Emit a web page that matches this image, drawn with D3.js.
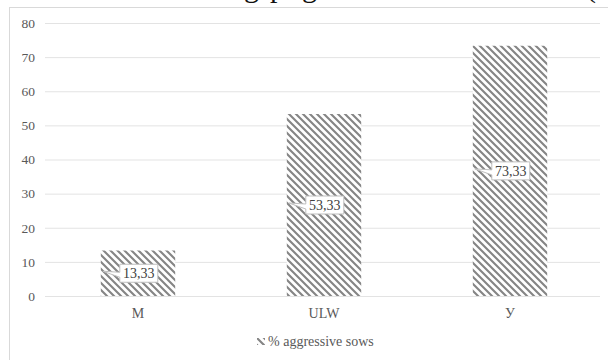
<!DOCTYPE html>
<html>
<head>
<meta charset="utf-8">
<script src="https://cdn.jsdelivr.net/npm/d3@7/dist/d3.min.js"></script>
<style>
  html, body { margin: 0; padding: 0; background: #fff; }
  svg { display: block; }
  svg text { font-family: "Liberation Serif", "Times New Roman", serif; }
</style>
</head>
<body>
<svg id="chart" width="608" height="360"></svg>
<script>
// Share of aggressive sows per group
const categories = ["M", "ULW", "У"];
const values = [13.33, 53.33, 73.33];
const labels = ["13,33", "53,33", "73,33"];
const yTicks = [0, 10, 20, 30, 40, 50, 60, 70, 80];
const seriesName = "% aggressive sows";

const svg = d3.select("#chart");
const W = 608, H = 360;
const serif = "'Liberation Serif', 'Times New Roman', serif";

// page text running above the chart frame (only its lower part is on screen)
const head = svg.append("text")
  .attr("y", -3)
  .attr("font-size", 30)
  .attr("font-family", serif)
  .attr("fill", "#111");
head.append("tspan").attr("x", 244).text("g");
head.append("tspan").attr("x", 270).text("p");
head.append("tspan").attr("x", 302).text("g");
head.append("tspan").attr("x", 586).text("(");

// chart frame
svg.append("rect")
  .attr("x", 9.5).attr("y", 7.5)
  .attr("width", W).attr("height", H)
  .attr("fill", "#fff")
  .attr("stroke", "#d9d9d9");

// diagonal hatch fill
const defs = svg.append("defs");
const pat = defs.append("pattern")
  .attr("id", "hatch")
  .attr("patternUnits", "userSpaceOnUse")
  .attr("width", 7).attr("height", 7);
pat.append("rect").attr("width", 7).attr("height", 7).attr("fill", "#fff");
pat.append("path")
  .attr("d", "M-2,-2 L9,9 M-2,5 L2,9 M5,-2 L9,2")
  .attr("stroke", "#858585")
  .attr("stroke-width", 2.1);

const plot = { left: 45, right: 603, top: 23, bottom: 296 };

const x = d3.scaleBand()
  .domain(categories)
  .range([plot.left, plot.right])
  .paddingInner(0.6)
  .paddingOuter(0.3);

const y = d3.scaleLinear()
  .domain([0, 80])
  .range([plot.bottom, plot.top]);

// gridlines and value axis
const yAxis = svg.append("g")
  .attr("transform", `translate(${plot.left},0)`)
  .call(d3.axisLeft(y)
    .tickValues(yTicks)
    .tickSize(-(plot.right - plot.left - 3))
    .tickPadding(10)
    .tickFormat(d3.format("d")));
yAxis.attr("font-family", serif);
yAxis.select(".domain").remove();
yAxis.selectAll(".tick line").attr("stroke", "#e3e3e3");
yAxis.selectAll(".tick text")
  .attr("fill", "#595959")
  .attr("font-size", 13.5);

// category axis
const xAxis = svg.append("g")
  .attr("transform", `translate(0,${plot.bottom})`)
  .call(d3.axisBottom(x).tickSize(0).tickPadding(12));
xAxis.attr("font-family", serif);
xAxis.select(".domain").remove();
xAxis.selectAll(".tick text")
  .attr("fill", "#595959")
  .attr("font-size", 14);

// bars
const data = categories.map((c, i) => ({ c, v: values[i], label: labels[i] }));
svg.append("g").selectAll("rect")
  .data(data)
  .join("rect")
  .attr("x", d => x(d.c))
  .attr("y", d => y(d.v))
  .attr("width", x.bandwidth())
  .attr("height", d => y(0) - y(d.v))
  .attr("fill", "url(#hatch)");

// callout value labels
const boxW = 38, boxH = 18, boxOff = 19;
const lab = svg.append("g").selectAll("g")
  .data(data)
  .join("g")
  .attr("transform", d => {
    const bx = x(d.c) + boxOff;
    const cy = (y(d.v) + y(0)) / 2;
    return `translate(${bx},${cy})`;
  });
lab.append("path")
  .attr("d", () => {
    const t = -boxOff + 2;
    return `M0,${-boxH / 2} H${boxW} V${boxH / 2} H0 V4 L${t},-2 L0,-1 Z`;
  })
  .attr("fill", "#fff")
  .attr("stroke", "#bfbfbf")
  .attr("stroke-width", 1);
lab.append("text")
  .attr("x", boxW / 2)
  .attr("y", 5)
  .attr("text-anchor", "middle")
  .attr("font-size", 14)
  .attr("font-family", serif)
  .attr("fill", "#404040")
  .text(d => d.label);

// legend
const legend = svg.append("g").attr("transform", "translate(257,338)");
legend.append("rect")
  .attr("width", 8).attr("height", 7)
  .attr("fill", "url(#hatch)");
legend.append("text")
  .attr("x", 11).attr("y", 8)
  .attr("font-size", 14)
  .attr("font-family", serif)
  .attr("fill", "#595959")
  .text(seriesName);
</script>
</body>
</html>
